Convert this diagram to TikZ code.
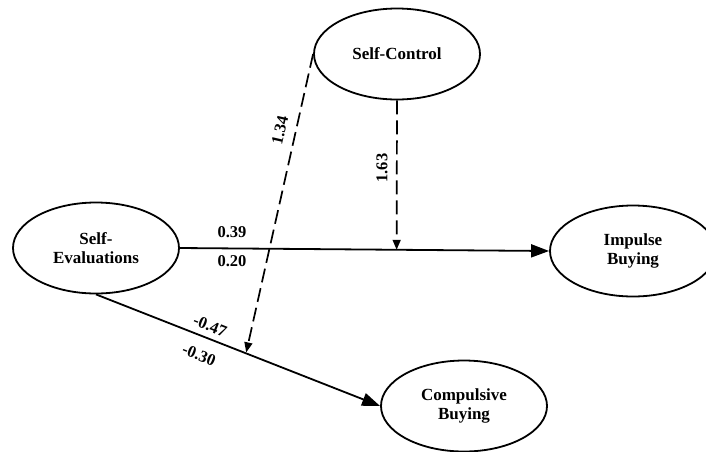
\documentclass[tikz,border=0pt]{standalone}
\usepackage{fontspec}
\setmainfont{Liberation Serif}
\usetikzlibrary{shapes.geometric,arrows.meta}
\begin{document}
\begin{tikzpicture}[x=1pt,y=-1pt,
  construct/.style={draw,ellipse,line width=1.8pt,minimum width=166pt,minimum height=91pt,
    inner sep=0pt,align=center,font=\fontsize{17}{19.5}\selectfont\bfseries},
  directpath/.style={line width=1.8pt,-{Triangle[length=18pt,width=13pt]}},
  moderation/.style={line width=1.7pt,dash pattern=on 14pt off 6pt,
    -{Triangle[length=10pt,width=8pt]}},
  coef/.style={font=\fontsize{16.5}{18}\selectfont\bfseries,inner sep=0pt}]
\useasboundingbox (0,0) rectangle (706,451);
\clip (0,0) rectangle (706,451);

% constructs
\node[construct] (se) at (96,248)  {Self-\\Evaluations};
\node[construct] (sc) at (397,54)  {Self-Control};
\node[construct] (ib) at (633,251) {Impulse\\Buying};
\node[construct] (cb) at (464,406) {Compulsive\\Buying};

% direct effects
\draw[directpath] (se.east) -- (ib.west);
\draw[directpath] (se.south) -- (cb.west);

% points where the moderator meets the paths
\path (se.east) -- (ib.west) coordinate[pos=0.587] (m1);
\path (se.south) -- (cb.west) coordinate[pos=0.528] (m2);

% moderating effects
\draw[moderation] (sc.south) -- (m1);
\draw[moderation,shorten >=1pt] (sc.west) -- (m2);

% path coefficients
\node[coef] (c39) at (232,232) {0.39};
\node[coef] (c20) at (232,261) {0.20};
\node[coef,rotate=-21.6] (c47) at (210,326) {-0.47};
\node[coef,rotate=-21.6] (c30) at (199,355) {-0.30};
\node[coef,rotate=77] (c134) at (280,130) {1.34};
\node[coef,rotate=90] (c163) at (382,168) {1.63};
\end{tikzpicture}
\end{document}
